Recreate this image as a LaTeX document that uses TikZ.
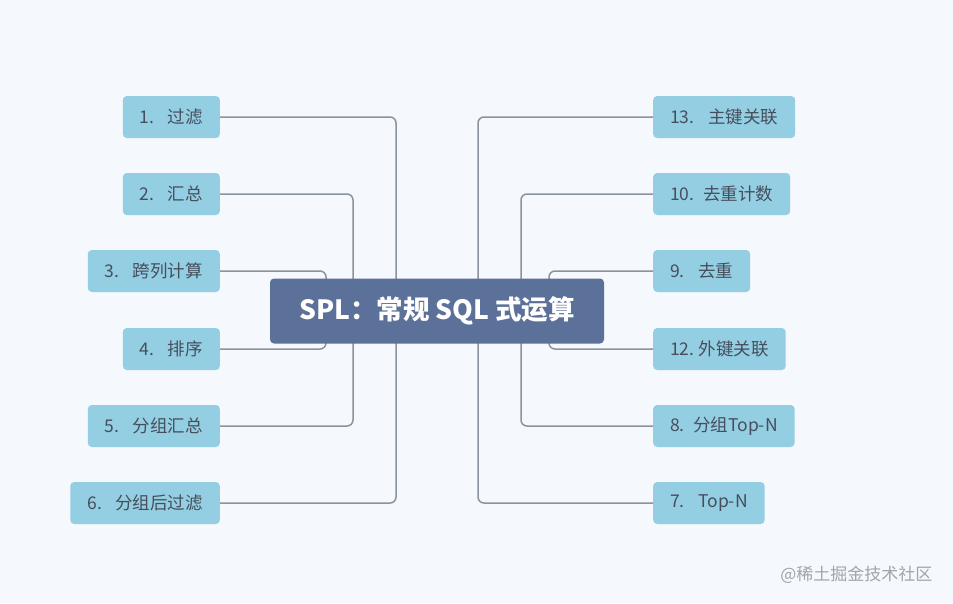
\documentclass[tikz,border=0pt]{standalone}
\usepackage{fontspec}
\setmainfont{Noto Sans CJK SC}
\usepackage{xcolor}
\usepackage{tikz}
\definecolor{pagebg}{RGB}{245, 248, 253}
\definecolor{leafblue}{RGB}{148, 206, 227}
\definecolor{leaftext}{RGB}{70, 78, 92}
\definecolor{rootblue}{RGB}{91, 113, 153}
\definecolor{linegray}{RGB}{138, 147, 160}
\definecolor{markgray}{RGB}{160, 165, 172}

\tikzset{
	leaf/.style={fill=leafblue, rounded corners=4pt, minimum height=42pt,
		inner xsep=17pt, inner ysep=0pt, text=leaftext,
		font=\fontsize{17.5}{20}\selectfont},
	root/.style={fill=rootblue, rounded corners=4pt, minimum width=334pt,
		minimum height=65pt, text=white,
		font=\fontsize{26.5}{30}\selectfont\bfseries},
	branch/.style={draw=linegray, line width=1.5pt, rounded corners=6pt},
}
\newcommand{\itemno}[3][28pt]{\makebox[#1][l]{#2.}#3}

\begin{document}
\begin{tikzpicture}[x=1pt, y=-1pt]
			\def\lx{220}
			\def\rx{653}
			\def\cy{311}

			\fill[pagebg] (0,0) rectangle (953,603);

			% Left leaves
			\node[leaf, anchor=east] (l1) at (\lx, 117) {\itemno{1}{过滤}};
			\node[leaf, anchor=east] (l2) at (\lx, 194) {\itemno{2}{汇总}};
			\node[leaf, anchor=east] (l3) at (\lx, 271) {\itemno{3}{跨列计算}};
			\node[leaf, anchor=east] (l4) at (\lx, 349) {\itemno{4}{排序}};
			\node[leaf, anchor=east] (l5) at (\lx, 426) {\itemno{5}{分组汇总}};
			\node[leaf, anchor=east] (l6) at (\lx, 503) {\itemno{6}{分组后过滤}};

			% Right leaves
			\node[leaf, anchor=west] (r1) at (\rx, 117) {\itemno[38pt]{13}{主键关联}};
			\node[leaf, anchor=west] (r2) at (\rx, 194) {\itemno[33pt]{10}{去重计数}};
			\node[leaf, anchor=west] (r3) at (\rx, 271) {\itemno{9}{去重}};
			\node[leaf, anchor=west] (r4) at (\rx, 349) {\itemno[28.5pt]{12}{外键关联}};
			\node[leaf, anchor=west] (r5) at (\rx, 426) {\itemno[23pt]{8}{分组Top-N}};
			\node[leaf, anchor=west] (r6) at (\rx, 503) {\itemno{7}{Top-N}};

			% Junctions behind the root
			\coordinate (jl1) at (396, \cy);
			\coordinate (jl2) at (353, \cy);
			\coordinate (jl3) at (326, \cy);
			\coordinate (jr1) at (478, \cy);
			\coordinate (jr2) at (521, \cy);
			\coordinate (jr3) at (549, \cy);

			\draw[branch] (l1.east) -| (jl1);
			\draw[branch] (l6.east) -| (jl1);
			\draw[branch] (l2.east) -| (jl2);
			\draw[branch] (l5.east) -| (jl2);
			\draw[branch] (l3.east) -| (jl3);
			\draw[branch] (l4.east) -| (jl3);
			\draw[branch] (r1.west) -| (jr1);
			\draw[branch] (r6.west) -| (jr1);
			\draw[branch] (r2.west) -| (jr2);
			\draw[branch] (r5.west) -| (jr2);
			\draw[branch] (r3.west) -| (jr3);
			\draw[branch] (r4.west) -| (jr3);

			\node[root] (root) at (437, \cy) {SPL：常规 SQL 式运算};

			\node[anchor=east, text=markgray, font=\fontsize{17}{20}\selectfont] (mark) at (936, 575) {@稀土掘金技术社区};
		\end{tikzpicture}
\end{document}
